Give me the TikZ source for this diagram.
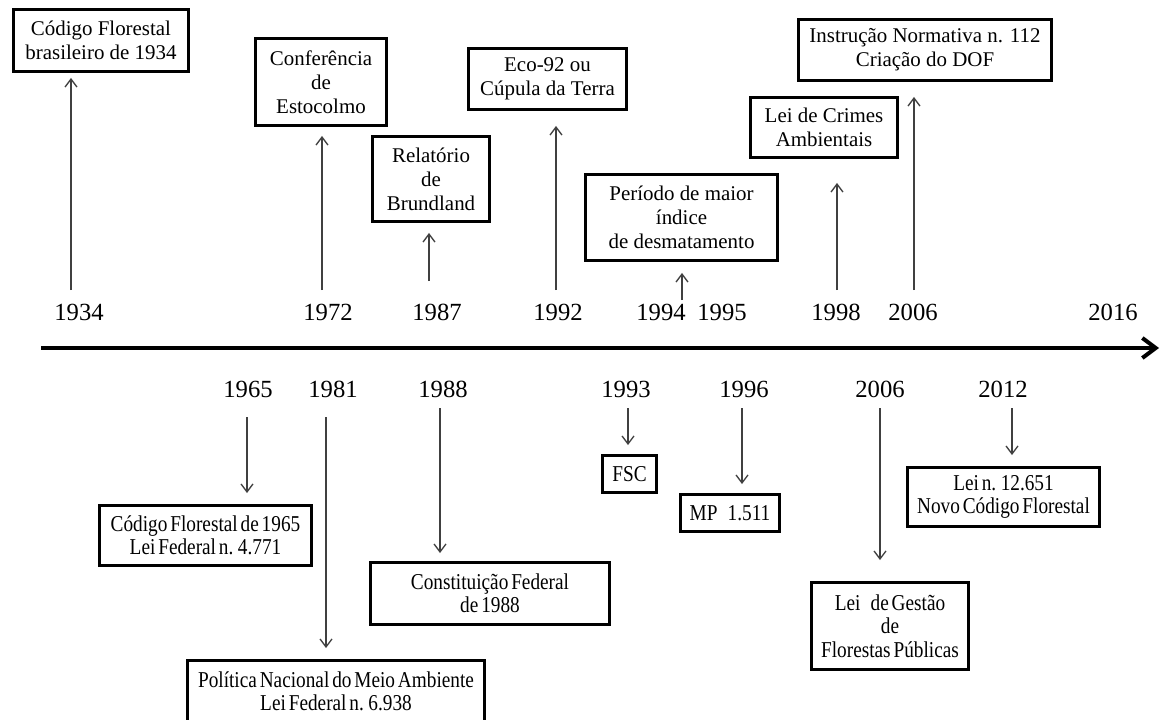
\documentclass[tikz,border=0pt]{standalone}
\usepackage{fontspec}
\setmainfont{Liberation Serif}
\newfontfamily\condensedserif[FakeStretch=0.85, WordSpace=0.6]{Liberation Serif}
\usetikzlibrary{arrows.meta}
\begin{document}
\begin{tikzpicture}[x=0.75pt,y=-0.75pt,
  evt/.style={draw, line width=2.2pt, align=center, inner sep=0pt,
    font=\fontsize{15.7}{18}\selectfont},
  evtlow/.style={evt, font={\condensedserif\fontsize{17}{17.5}\selectfont}},
  sz/.style 2 args={minimum width=#1, minimum height=#2},
  yr/.style={anchor=base, inner sep=0pt, font=\fontsize{18.5}{21}\selectfont},
  link/.style={draw=black!75, line width=1pt, -{Straight Barb[length=6pt,width=9pt]}},
  axisline/.style={line width=3pt, -{Straight Barb[length=10pt,width=15pt]}}]
\clip (0,0) rectangle (1162,719);

% time axis
\coordinate (axL) at (41,348);
\coordinate (axR) at (1159,348);
\draw[axisline] (axL) -- (axR);

% years above the axis
\node[yr] (y1934) at (79,320) {1934};
\node[yr] (y1972) at (328,320) {1972};
\node[yr] (y1987) at (437,320) {1987};
\node[yr] (y1992) at (558,320) {1992};
\node[yr] (y1994) at (661,320) {1994};
\node[yr] (y1995) at (722,320) {1995};
\node[yr] (y1998) at (836,320) {1998};
\node[yr] (y2006a) at (913,320) {2006};
\node[yr] (y2016) at (1113,320) {2016};

% years below the axis
\node[yr] (y1965) at (248,397) {1965};
\node[yr] (y1981) at (333,397) {1981};
\node[yr] (y1988) at (443,397) {1988};
\node[yr] (y1993) at (626,397) {1993};
\node[yr] (y1996) at (744,397) {1996};
\node[yr] (y2006b) at (880,397) {2006};
\node[yr] (y2012) at (1003,397) {2012};

% events above the axis
\node[evt, sz={131.25pt}{46.5pt}] (b1934) at (101,40.5) {Código Florestal\\brasileiro de 1934};
\node[evt, sz={98.25pt}{65.25pt}] (b1972) at (321,82) {Conferência\\de\\Estocolmo};
\node[evt, sz={87.75pt}{63.75pt}] (b1987) at (431,179) {Relatório\\de\\Brundland};
\node[evt, sz={118.5pt}{45.75pt}] (b1992) at (547.5,79) {Eco-92 ou\\Cúpula da Terra};
\node[evt, sz={144pt}{64.5pt}] (b1994) at (681.5,217.5) {Período de maior\\índice\\de desmatamento};
\node[evt, sz={110.25pt}{45pt}] (b1998) at (824,127.5) {Lei de Crimes\\Ambientais};
\node[evt, sz={189.75pt}{45.75pt}] (b2006a) at (925,50) {Instrução Normativa n. 112\\Criação do DOF};

% events below the axis
\node[evtlow, sz={159pt}{45pt}] (b1965) at (205.5,535.5) {Código Florestal de 1965\\Lei Federal n. 4.771};
\node[evtlow, sz={222.75pt}{45.75pt}] (b1981) at (336,691) {Política Nacional do Meio Ambiente\\Lei Federal n. 6.938};
\node[evtlow, sz={179.25pt}{46.5pt}] (b1988) at (490,593.5) {Constituição Federal\\de 1988};
\node[evtlow, sz={40.5pt}{27.75pt}] (b1993) at (629.5,474) {FSC};
\node[evtlow, sz={74.25pt}{27.75pt}] (b1996) at (730,513) {MP\hspace{0.45em}1.511};
\node[evtlow, sz={117.75pt}{65.25pt}] (b2006b) at (890,626) {Lei\hspace{0.45em}de Gestão\\de\\Florestas Públicas};
\node[evtlow, sz={144pt}{44.25pt}] (b2012) at (1003.5,497) {Lei n. 12.651\\Novo Código Florestal};

% arrows pointing up to the events
\coordinate (s1934) at (71,290);
\coordinate (s1972) at (322,290);
\coordinate (s1987) at (429,281);
\coordinate (s1992) at (556,290);
\coordinate (s1994) at (682,300);
\coordinate (s1998) at (837,290);
\coordinate (s2006a) at (914,290);
\draw[link, shorten >=3.75pt] (s1934) -- (s1934 |- b1934.south);
\draw[link, shorten >=6.75pt] (s1972) -- (s1972 |- b1972.south);
\draw[link, shorten >=7.5pt] (s1987) -- (s1987 |- b1987.south);
\draw[link, shorten >=11.25pt] (s1992) -- (s1992 |- b1992.south);
\draw[link, shorten >=8.25pt] (s1994) -- (s1994 |- b1994.south);
\draw[link, shorten >=18pt] (s1998) -- (s1998 |- b1998.south);
\draw[link, shorten >=11.25pt] (s2006a) -- (s2006a |- b2006a.south);

% arrows pointing down to the events
\coordinate (s1965) at (247,417);
\coordinate (s1981) at (326,417);
\coordinate (s1988) at (440,408);
\coordinate (s1993) at (628,408);
\coordinate (s1996) at (742,408);
\coordinate (s2006b) at (880,408);
\coordinate (s2012) at (1012,408);
\draw[link, shorten >=8.25pt] (s1965) -- (s1965 |- b1965.north);
\draw[link, shorten >=8.25pt] (s1981) -- (s1981 |- b1981.north);
\draw[link, shorten >=6pt] (s1988) -- (s1988 |- b1988.north);
\draw[link, shorten >=6.75pt] (s1993) -- (s1993 |- b1993.north);
\draw[link, shorten >=6.75pt] (s1996) -- (s1996 |- b1996.north);
\draw[link, shorten >=15.75pt] (s2006b) -- (s2006b |- b2006b.north);
\draw[link, shorten >=8.25pt] (s2012) -- (s2012 |- b2012.north);
\end{tikzpicture}
\end{document}
